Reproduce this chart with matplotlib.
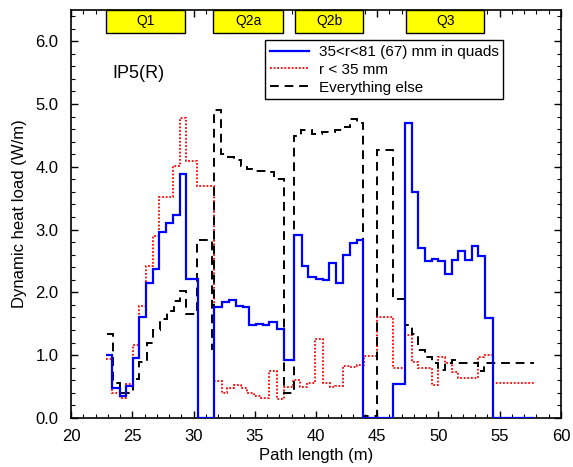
import numpy as np
import matplotlib
matplotlib.use('Agg')
import matplotlib.pyplot as plt
from matplotlib.patches import Rectangle

plt.rcParams['font.family'] = ['Liberation Sans', 'DejaVu Sans']

# 35<r<81 (67) mm in quads
blue_edges = [22.86, 23.37, 24.0, 24.49, 25.03, 25.58, 26.12, 26.67, 27.2, 27.76, 28.3,
              28.9, 29.39, 30.35, 31.7, 32.3, 32.93, 33.44, 34.0, 34.56, 35.1, 35.7, 36.2,
              36.84, 37.39, 38.2, 38.83, 39.37, 40.0, 40.55, 41.09, 41.63, 42.23, 42.78,
              43.32, 43.86, 46.26, 47.27, 47.81, 48.35, 48.9, 49.44, 49.98, 50.53, 51.07,
              51.62, 52.16, 52.7, 53.25, 53.8, 54.47, 57.8]
blue_vals = [1.0, 0.47, 0.35, 0.51, 0.96, 1.61, 2.15, 2.38, 2.96, 3.1, 3.23, 3.88, 2.21,
             0.0, 1.77, 1.84, 1.88, 1.78, 1.76, 1.48, 1.50, 1.48, 1.53, 1.41, 0.93, 2.92,
             2.42, 2.24, 2.22, 2.2, 2.46, 2.15, 2.6, 2.78, 2.83, 0.0, 0.54, 4.69, 3.6,
             2.71, 2.5, 2.53, 2.5, 2.29, 2.51, 2.66, 2.52, 2.74, 2.58, 1.59, 0.0]

# r < 35 mm
red_edges = [22.86, 23.32, 24.0, 24.49, 25.03, 25.58, 26.12, 26.67, 27.2, 28.3, 28.9,
             29.39, 30.31, 31.67, 32.3, 32.75, 33.3, 33.85, 34.4, 34.9, 35.5, 36.2, 36.84,
             37.4, 38.15, 38.7, 39.24, 39.92, 40.6, 41.14, 41.55, 42.23, 42.78, 43.32,
             43.92, 45.0, 46.26, 47.27, 47.81, 48.35, 48.85, 49.44, 49.98, 50.53, 51.07,
             51.62, 53.2, 53.75, 54.47, 57.8]
red_vals = [0.94, 0.40, 0.32, 0.54, 1.16, 1.78, 2.42, 2.89, 3.52, 4.02, 4.77, 4.1, 3.7,
            0.59, 0.4, 0.47, 0.52, 0.47, 0.39, 0.35, 0.32, 0.74, 0.3, 0.5, 0.6, 0.5,
            0.56, 1.26, 0.55, 0.5, 0.51, 0.83, 0.81, 0.85, 0.98, 1.6, 0.8, 1.32, 0.89,
            0.8, 0.79, 0.52, 0.97, 0.88, 0.73, 0.64, 0.97, 1.0, 0.56]

# everything else
black_edges = [22.91, 23.46, 24.0, 25.03, 25.58, 26.18, 26.72, 27.27, 27.81, 28.41, 28.9,
               29.39, 30.31, 31.49, 31.7, 32.24, 32.8, 33.33, 33.85, 34.4, 35.0, 36.0,
               36.6, 37.41, 38.2, 38.78, 39.65, 40.46, 41.55, 42.23, 42.78, 43.32, 43.86,
               45.0, 46.26, 47.29, 47.81, 48.35, 48.9, 49.44, 49.98, 50.53, 51.07, 51.62,
               53.2, 53.75, 57.8]
black_vals = [1.34, 0.55, 0.40, 0.62, 0.89, 1.2, 1.4, 1.58, 1.71, 1.87, 2.02, 1.66, 2.83,
              1.1, 4.9, 4.2, 4.15, 4.11, 4.02, 3.96, 3.93, 3.91, 3.8, 0.4, 4.49, 4.58,
              4.53, 4.55, 4.58, 4.63, 4.76, 4.7, 0.03, 4.27, 1.9, 1.48, 1.34, 1.08, 0.97,
              0.87, 0.77, 0.88, 0.93, 0.88, 0.75, 0.88]

magnets = ['Q1', 'Q2a', 'Q2b', 'Q3']
mag_start = [22.83, 31.6, 38.3, 47.35]
mag_end = [29.33, 37.33, 43.86, 53.74]

fig = plt.figure(figsize=(5.73, 4.67), dpi=100)
ax = fig.add_axes([0.124, 0.105, 0.855, 0.874])

ax.stairs(blue_vals, blue_edges, baseline=None, color='#0000ff', lw=1.6,
          label='35<r<81 (67) mm in quads', zorder=3)
ax.stairs(red_vals, red_edges, baseline=None, color='red', lw=1.3,
          linestyle=(0, (1, 1)), label='r < 35 mm', zorder=2)
ax.stairs(black_vals, black_edges, baseline=None, color='black', lw=1.4,
          linestyle=(0, (4.5, 3)), label='Everything else', zorder=2)

# magnet boxes along the top
for name, a, b in zip(magnets, mag_start, mag_end):
    ax.add_patch(Rectangle((a, 6.13), b - a, 0.37, facecolor='#ffff00',
                           edgecolor='black', lw=1.0, zorder=5, clip_on=False))
    ax.text((a + b) / 2, 6.315, name, ha='center', va='center', fontsize=10, zorder=6)

ax.text(23.35, 5.49, 'IP5(R)', fontsize=13, va='center', ha='left')

ax.set_xlim(20, 60)
ax.set_ylim(0, 6.5)
ax.set_xticks(np.arange(20, 61, 5))
ax.set_xticks(np.arange(20, 61, 1), minor=True)
ax.set_yticks(np.arange(0, 6.1, 1.0))
ax.set_yticks(np.arange(0, 6.5, 0.2), minor=True)
ax.yaxis.set_major_formatter(matplotlib.ticker.FormatStrFormatter('%.1f'))
ax.tick_params(which='both', direction='in', top=True, right=True, labelsize=12)
ax.tick_params(which='major', length=5, width=1)
ax.tick_params(which='minor', length=3, width=0.8)
ax.tick_params(axis='x', which='major', pad=8)
ax.tick_params(axis='y', which='major', pad=9)
for s in ax.spines.values():
    s.set_linewidth(1.2)

ax.set_xlabel('Path length (m)', fontsize=12, labelpad=3)
ax.set_ylabel('Dynamic heat load (W/m)', fontsize=12, labelpad=6)

leg = ax.legend(loc='upper left', bbox_to_anchor=(0.396, 0.925), fontsize=11,
                handlelength=2.6, handletextpad=0.6, borderpad=0.3, labelspacing=0.25,
                fancybox=False, framealpha=1, edgecolor='black', borderaxespad=0)
leg.get_frame().set_linewidth(1.0)

fig.savefig('out.png', dpi=100)
